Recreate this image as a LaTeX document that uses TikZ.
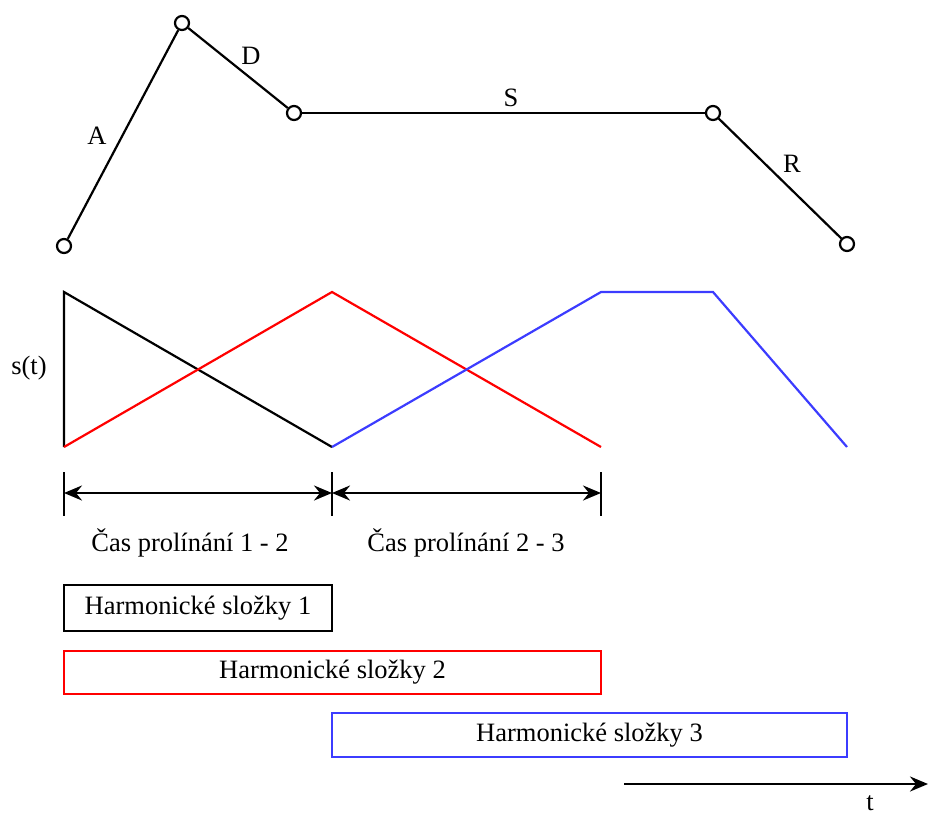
\documentclass[tikz,border=0pt]{standalone}
\usepackage{fontspec}
\setmainfont{Liberation Serif}
\usetikzlibrary{arrows.meta}
\definecolor{myblue}{RGB}{60,60,255}
\begin{document}
\begin{tikzpicture}[x=1pt,y=-1pt,
  txt/.style={font=\fontsize{26.5}{31}\selectfont, inner sep=0pt},
  pt/.style={circle, draw, line width=2.2pt, fill=white, minimum size=14pt, inner sep=0pt},
  env/.style={line width=2.2pt},
  fade/.style={line width=2.2pt},
  dim/.style={line width=2.6pt, {Stealth[length=18pt,width=15pt,inset=6pt]}-{Stealth[length=18pt,width=15pt,inset=6pt]}},
  tick/.style={line width=2pt},
  hbox/.style={draw, line width=2.8pt, inner sep=0pt, font=\fontsize{26.5}{31}\selectfont}
]
\useasboundingbox (0,0) rectangle (928,817);

% ADSR envelope
\node[pt] (p0) at (64,246) {};
\node[pt] (p1) at (182,23) {};
\node[pt] (p2) at (294,113) {};
\node[pt] (p3) at (713,113) {};
\node[pt] (p4) at (847,244) {};
\draw[env] (p0) -- (p1);
\draw[env] (p1) -- (p2);
\draw[env] (p2) -- (p3);
\draw[env] (p3) -- (p4);
\node[txt] (lA) at (97,136) {A};
\node[txt] (lD) at (251,56) {D};
\node[txt] (lS) at (511,98) {S};
\node[txt] (lR) at (792,164) {R};

% crossfade curves
\coordinate (b0) at (64,447);
\coordinate (t0) at (64,292);
\coordinate (b1) at (332,447);
\coordinate (t1) at (332,292);
\coordinate (b2) at (601,447);
\coordinate (t2) at (601,292);
\coordinate (t3) at (713,292);
\coordinate (b4) at (847,447);
\draw[fade, black] (b0) -- (t0) -- (b1);
\draw[fade, red] (b0) -- (t1) -- (b2);
\draw[fade, myblue] (b1) -- (t2) -- (t3) -- (b4);
\node[txt] (st) at (29,368) {s(t)};

% dimension lines
\coordinate (k0a) at (64,472); \coordinate (k0b) at (64,516);
\coordinate (k1a) at (332,472); \coordinate (k1b) at (332,516);
\coordinate (k2a) at (601,472); \coordinate (k2b) at (601,516);
\draw[tick] (k0a) -- (k0b);
\draw[tick] (k1a) -- (k1b);
\draw[tick] (k2a) -- (k2b);
\coordinate (d0) at (64,493);
\coordinate (d1) at (332,493);
\coordinate (d2) at (601,493);
\draw[dim] (d0) -- (d1);
\draw[dim] (d1) -- (d2);
\node[txt] (c12) at (190,543) {Čas prolínání 1 - 2};
\node[txt] (c23) at (466,543) {Čas prolínání 2 - 3};

% boxes
\node[hbox, black, text=black, minimum width=268pt, minimum height=46pt] (h1) at (198,608) {Harmonické složky 1};
\node[hbox, red, text=black, minimum width=537pt, minimum height=43pt] (h2) at (332.5,672.5) {Harmonické složky 2};
\node[hbox, myblue, text=black, minimum width=515pt, minimum height=44pt] (h3) at (589.5,735) {Harmonické složky 3};

% time axis
\coordinate (ta) at (624,784);
\coordinate (tb) at (928,784);
\draw[line width=2.6pt, -{Stealth[length=18pt,width=15pt,inset=6pt]}] (ta) -- (tb);
\node[txt, anchor=base] (lt) at (870,810) {t};
\end{tikzpicture}
\end{document}
